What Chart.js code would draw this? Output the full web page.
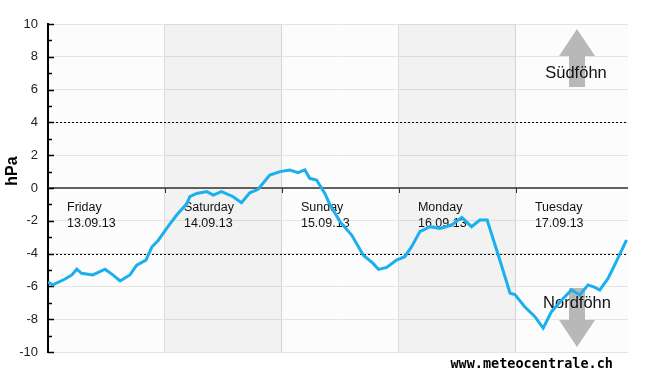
<!DOCTYPE html>
<html lang="de">
<head>
<meta charset="UTF-8">
<title>Föhn</title>
<style>
  body { margin: 0; background: #fff; }
</style>
</head>
<body>
<canvas id="myChart" width="650" height="375"></canvas>
<script src="https://cdn.jsdelivr.net/npm/chart.js"></script>
<script>
// hours since Friday 00:00
const v_hours = [0, 1, 3.5, 4.9, 5.9, 6.9, 9.2, 11.7, 13.1, 14.8, 16.8, 18.2, 20.1, 21.3, 22.6,
  24.6, 26.4, 28.5, 29.1, 30.5, 32.6, 33.9, 35.6, 38, 39.7, 41.4, 43.1, 45.5, 47.6,
  49.6, 51.3, 52.7, 53.7, 55.1, 56.8, 57.8, 59.9, 62.3, 64.7, 66.7, 67.8, 69.5, 71.5,
  73.2, 74.6, 76.3, 78.4, 80.4, 82.8, 84.9, 86.9, 88.6, 90.1, 91.4, 92.7, 94.8, 95.8,
  97.8, 99.9, 101.6, 103.3, 105.4, 107.4, 109.1, 110.8, 112.2, 113.2, 114.9, 116.6, 118.7];
// pressure difference south-north, hPa
const v_hpa = [-5.75, -5.9, -5.55, -5.3, -4.95, -5.2, -5.3, -4.95, -5.25, -5.67, -5.3, -4.7, -4.4, -3.6, -3.2,
  -2.35, -1.65, -0.95, -0.53, -0.33, -0.22, -0.43, -0.22, -0.53, -0.9, -0.29, -0.08, 0.79, 1.0,
  1.1, 0.93, 1.1, 0.59, 0.49, -0.33, -0.99, -2.05, -2.87, -4.1, -4.6, -4.96, -4.84, -4.39,
  -4.19, -3.58, -2.66, -2.36, -2.46, -2.26, -1.79, -2.36, -1.95, -1.95, -3.17, -4.39, -6.42, -6.5,
  -7.24, -7.85, -8.55, -7.54, -6.83, -6.22, -6.52, -5.91, -6.06, -6.22, -5.51, -4.49, -3.17];

const v_days = ["Friday", "Saturday", "Sunday", "Monday", "Tuesday"];
const v_dates = ["13.09.13", "14.09.13", "15.09.13", "16.09.13", "17.09.13"];
const v_shaded = [1, 3]; // Saturday, Monday
const v_yTicks = [-10, -8, -6, -4, -2, 0, 2, 4, 6, 8, 10];

let v_points = [];
for (let i = 0; i < v_hours.length; i++) {
    v_points.push({ x: v_hours[i], y: v_hpa[i] });
}

const f_deco = {
    id: "deco",
    beforeDraw(chart) {
        const c = chart.ctx, a = chart.chartArea;
        c.save();
        c.fillStyle = "#fcfcfc";
        c.fillRect(a.left, a.top, a.right - a.left, a.bottom - a.top);
        c.restore();
    },
    beforeDatasetsDraw(chart) {
        const c = chart.ctx, a = chart.chartArea;
        const xs = chart.scales.x, ys = chart.scales.y;
        c.save();
        // shaded days
        c.fillStyle = "rgba(0,0,0,0.04)";
        for (let d of v_shaded) {
            let x1 = xs.getPixelForValue(d * 24), x2 = xs.getPixelForValue(d * 24 + 24);
            c.fillRect(x1, a.top, x2 - x1, a.bottom - a.top);
        }
        // dotted +-4
        c.strokeStyle = "#000";
        c.lineWidth = 1;
        c.setLineDash([2, 2]);
        for (let v of [4, -4]) {
            let y = Math.round(ys.getPixelForValue(v)) + 0.5;
            c.beginPath(); c.moveTo(a.left, y); c.lineTo(a.right, y); c.stroke();
        }
        c.setLineDash([]);
        // zero line
        let y0 = Math.round(ys.getPixelForValue(0));
        c.strokeStyle = "#333";
        c.lineWidth = 1.5;
        c.beginPath(); c.moveTo(a.left, y0); c.lineTo(a.right, y0); c.stroke();
        c.lineWidth = 1;
        for (let d = 1; d < 5; d++) {
            let x = Math.round(xs.getPixelForValue(d * 24)) + 0.5;
            c.beginPath(); c.moveTo(x, y0); c.lineTo(x, y0 + 5); c.stroke();
        }
        // y minor ticks
        c.strokeStyle = "#000";
        c.lineWidth = 1.5;
        for (let v = -10; v <= 10; v++) {
            let y = Math.round(ys.getPixelForValue(v)) + 0.5;
            c.beginPath(); c.moveTo(a.left, y); c.lineTo(a.left + (v % 2 == 0 ? 6 : 4), y); c.stroke();
        }
        // day labels
        c.fillStyle = "#111";
        c.font = "12.5px 'Liberation Sans', Arial, sans-serif";
        c.textAlign = "left";
        c.textBaseline = "middle";
        for (let d = 0; d < v_days.length; d++) {
            let x = xs.getPixelForValue(d * 24) + 19;
            c.fillText(v_days[d], x, y0 + 20);
            c.fillText(v_dates[d], x, y0 + 36);
        }
        // arrows
        c.fillStyle = "#b8b8b8";
        c.beginPath();
        c.moveTo(577, 29); c.lineTo(595, 56); c.lineTo(585, 56); c.lineTo(585, 87);
        c.lineTo(569, 87); c.lineTo(569, 56); c.lineTo(559, 56); c.closePath(); c.fill();
        c.beginPath();
        c.moveTo(577, 347); c.lineTo(595, 320); c.lineTo(585, 320); c.lineTo(585, 288);
        c.lineTo(569, 288); c.lineTo(569, 320); c.lineTo(559, 320); c.closePath(); c.fill();
        c.fillStyle = "#111";
        c.font = "16.5px 'Liberation Sans', Arial, sans-serif";
        c.textAlign = "center";
        c.fillText("Südföhn", 576, 73);
        c.fillText("Nordföhn", 577, 303);
        c.restore();
    },
    afterDraw(chart) {
        const c = chart.ctx;
        c.save();
        c.fillStyle = "#000";
        c.font = "bold 13.5px 'DejaVu Sans Mono', monospace";
        c.textAlign = "right";
        c.textBaseline = "middle";
        c.fillText("www.meteocentrale.ch", 613, 364);
        c.font = "bold 16px 'Liberation Sans', Arial, sans-serif";
        c.translate(13, 171);
        c.rotate(-Math.PI / 2);
        c.textAlign = "center";
        c.fillText("hPa", 0, 0);
        c.restore();
    }
};

const ctx = document.getElementById("myChart");
const myChart = new Chart(ctx, {
    type: "line",
    data: {
        datasets: [{
            data: v_points,
            borderColor: "#1ab0ee",
            borderWidth: 3,
            pointRadius: 0,
            tension: 0,
            fill: false
        }]
    },
    options: {
        responsive: false,
        animation: false,
        layout: { padding: { left: 0, top: 24, right: 22, bottom: 23 } },
        plugins: { legend: { display: false }, tooltip: { enabled: false } },
        scales: {
            x: {
                type: "linear",
                min: 0,
                max: 119,
                afterFit: s => { s.height = 0; },
                ticks: { display: false, stepSize: 24 },
                grid: {
                    color: c => (c.tick && c.tick.value > 0 && c.tick.value < 119) ? "#dcdcdc" : "rgba(0,0,0,0)",
                    drawTicks: false
                },
                border: { display: false }
            },
            y: {
                min: -10,
                max: 10,
                afterFit: s => { s.width = 48; },
                afterBuildTicks: s => { s.ticks = v_yTicks.map(v => ({ value: v })); },
                ticks: {
                    padding: 10,
                    color: "#222",
                    font: { family: "'Liberation Sans', Arial, sans-serif", size: 13 },
                    callback: v => v
                },
                grid: { color: "#e4e4e4", drawTicks: false },
                border: { color: "#000", width: 2 }
            }
        }
    },
    plugins: [f_deco]
});
</script>
</body>
</html>
